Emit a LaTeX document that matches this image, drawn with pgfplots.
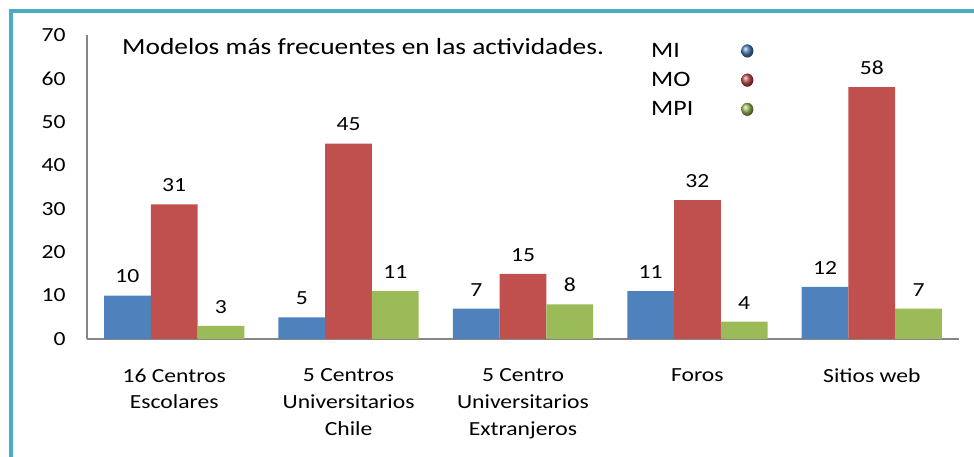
\documentclass[border=0pt]{standalone}
\usepackage{pgfplots}
\pgfplotsset{compat=1.18}
\usepackage{fontspec}
\setmainfont{Carlito}[FakeStretch=1.18]
\usetikzlibrary{shadings}
\definecolor{cMI}{HTML}{4F81BD}
\definecolor{cMO}{HTML}{C0504D}
\definecolor{cMPI}{HTML}{9BBB59}
\definecolor{frameC}{HTML}{4BACC6}
\definecolor{axisC}{HTML}{868686}
\begin{document}
\begin{tikzpicture}[x=1pt,y=1pt]
\useasboundingbox (0,0) rectangle (974,457);
\draw[frameC, line width=4pt] (11,0) -- (11,445.5) -- (974,445.5);
\node[anchor=west, inner sep=0pt, font=\fontsize{23.2}{27}\selectfont] at (122,410) {Modelos más frecuentes en las actividades.};
\begin{axis}[
  at={(87pt,118pt)}, anchor=south west,
  scale only axis, width=872pt, height=304pt,
  xmin=-0.5, xmax=4.5, ymin=0, ymax=70,
  axis lines*=left,
  axis line style={draw=axisC, line width=1.2pt, -},
  major tick length=0pt,
  ytick={0,10,20,30,40,50,60,70},
  xtick={0,1,2,3,4},
  xticklabels={{16 Centros\\Escolares},{5 Centros\\Universitarios\\Chile},{5 Centro\\Universitarios\\Extranjeros},{Foros},{Sitios web}},
  xticklabel style={align=center, yshift=-26pt, font=\fontsize{20}{26.8}\selectfont},
  yticklabel style={xshift=-18pt, font=\fontsize{20}{24}\selectfont},
  /pgf/number format/assume math mode=true,
  ybar, bar width=0.268,
  nodes near coords,
  nodes near coords style={font=\fontsize{20}{24}\selectfont, yshift=9pt, text=black},
  legend plot pos=right,
  legend cell align=left,
  legend style={at={(rel axis cs:0.641,0.987)}, anchor=north west, draw=none, fill=none,
    font=\fontsize{22}{26}\selectfont, row sep=9.5pt},
]
\addplot+[bar shift=-0.268, fill=cMI, draw=none,
  legend image code/.code={\path (0pt,0pt); \shade[draw=none, ball color=cMI] (52pt,0pt) ellipse (6pt and 6.5pt);}]
  coordinates {(0,10) (1,5) (2,7) (3,11) (4,12)};
\addplot+[bar shift=0, fill=cMO, draw=none,
  legend image code/.code={\path (0pt,0pt); \shade[draw=none, ball color=cMO] (52pt,0pt) ellipse (6pt and 6.5pt);}]
  coordinates {(0,31) (1,45) (2,15) (3,32) (4,58)};
\addplot+[bar shift=0.268, fill=cMPI, draw=none,
  legend image code/.code={\path (0pt,0pt); \shade[draw=none, ball color=cMPI] (52pt,0pt) ellipse (6pt and 6.5pt);}]
  coordinates {(0,3) (1,11) (2,8) (3,4) (4,7)};
\legend{MI,MO,MPI}
\end{axis}
\end{tikzpicture}
\end{document}
